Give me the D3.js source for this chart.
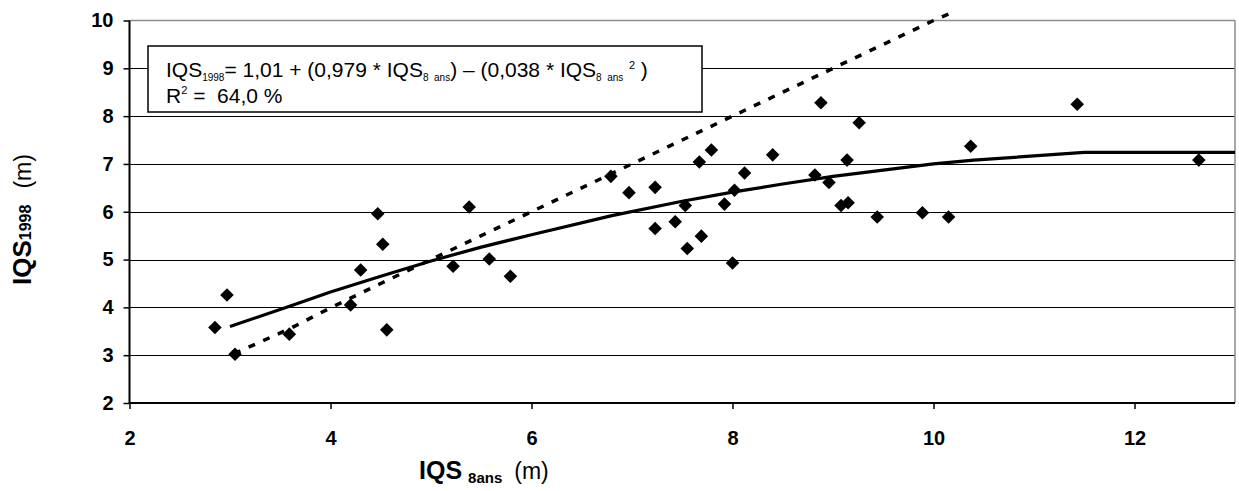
<!DOCTYPE html>
<html><head><meta charset="utf-8">
<script src="https://cdn.jsdelivr.net/npm/d3@7"></script>
<style>
body{margin:0;background:#fff}
svg{display:block}
text{font-family:"Liberation Sans",Arial,Helvetica,sans-serif;fill:#000}
</style>
</head><body>
<svg id="chart" width="1239" height="491"></svg>
<script>
// ---- data ----
const xTicks = [2, 4, 6, 8, 10, 12];
const yTicks = [2, 3, 4, 5, 6, 7, 8, 9, 10];
const gridValues = [3, 4, 5, 6, 7, 8, 9];

const obsX = [2.85, 2.97, 3.05, 3.59, 4.20, 4.30, 4.47, 4.52, 4.56, 5.22, 5.38, 5.58, 5.79,
              6.79, 6.97, 7.23, 7.23, 7.43, 7.53, 7.55, 7.67, 7.69, 7.79, 7.92, 8.00, 8.02,
              8.12, 8.40, 8.82, 8.88, 8.96, 9.08, 9.14, 9.15, 9.26, 9.44, 9.89, 10.15, 10.37,
              11.43, 12.64];
const obsY = [3.58, 4.26, 3.02, 3.44, 4.05, 4.78, 5.96, 5.32, 3.53, 4.86, 6.10, 5.01, 4.65,
              6.74, 6.40, 6.51, 5.65, 5.79, 6.13, 5.23, 7.04, 5.49, 7.29, 6.16, 4.93, 6.45,
              6.81, 7.19, 6.77, 8.28, 6.61, 6.13, 7.08, 6.19, 7.86, 5.89, 5.98, 5.89, 7.37,
              8.25, 7.08];

const fitX = [3.0, 3.6, 4.0, 4.5, 5.0, 5.5, 6.0, 6.8, 7.5, 8.0, 8.5, 9.0, 9.5, 10.0, 10.4, 11.5, 12.0, 13.0];
const fitY = [3.60, 4.03, 4.32, 4.65, 4.97, 5.26, 5.52, 5.92, 6.22, 6.41, 6.58, 6.74, 6.87, 7.00, 7.08, 7.24, 7.24, 7.24];

const refX = [3.04, 3.6, 4.0, 4.5, 5.0, 5.5, 6.0, 6.5, 7.0, 7.5, 8.0, 8.5, 9.0, 9.5, 10.0, 10.2];
const refY = [3.03, 3.56, 3.99, 4.50, 5.00, 5.50, 6.00, 6.50, 7.00, 7.50, 8.00, 8.50, 9.00, 9.50, 10.00, 10.18];

// ---- layout ----
const svg = d3.select("#chart");
const L = 129.5, R = 1235, T = 20.5, B = 403;
const x = d3.scaleLinear().domain([2, 13]).range([L, R]);
const y = d3.scaleLinear().domain([2, 10]).range([B, T]);

// gridlines
svg.append("g").selectAll("line").data(gridValues).join("line")
  .attr("x1", L).attr("x2", R)
  .attr("y1", d => Math.round(y(d)) + 0.5).attr("y2", d => Math.round(y(d)) + 0.5)
  .attr("stroke", "#000").attr("stroke-width", 1);

// top & right border (grey)
svg.append("line").attr("x1", L).attr("x2", R).attr("y1", y(10)).attr("y2", y(10))
  .attr("stroke", "#8c8c8c").attr("stroke-width", 1.5);
svg.append("line").attr("x1", R).attr("x2", R).attr("y1", y(10)).attr("y2", B)
  .attr("stroke", "#8c8c8c").attr("stroke-width", 1.5);

// axes
const yAxis = d3.axisLeft(y).tickValues(yTicks).tickSize(6).tickSizeOuter(0).tickPadding(10);
const gy = svg.append("g").attr("transform", `translate(${L},0)`).call(yAxis);
gy.select(".domain").remove();
gy.selectAll(".tick line").attr("stroke", "#000").attr("stroke-width", 1.5);
gy.selectAll(".tick text").attr("font-size", 20).attr("font-weight", "bold")
  .attr("font-family", '"Liberation Sans",Arial,sans-serif').attr("fill", "#000");

const xAxis = d3.axisBottom(x).tickValues(xTicks).tickSize(6).tickSizeOuter(0).tickPadding(22);
const gx = svg.append("g").attr("transform", `translate(0,${B})`).call(xAxis);
gx.select(".domain").remove();
gx.selectAll(".tick line").attr("stroke", "#000").attr("stroke-width", 1.5);
gx.selectAll(".tick text").attr("font-size", 20).attr("font-weight", "bold")
  .attr("font-family", '"Liberation Sans",Arial,sans-serif').attr("fill", "#000");

svg.append("line").attr("x1", L).attr("x2", L).attr("y1", y(10)).attr("y2", B)
  .attr("stroke", "#000").attr("stroke-width", 2);
svg.append("line").attr("x1", L).attr("x2", R).attr("y1", B).attr("y2", B)
  .attr("stroke", "#000").attr("stroke-width", 2);

// equation box
svg.append("rect").attr("x", 148).attr("y", 46).attr("width", 554).attr("height", 66)
  .attr("fill", "#fff").attr("stroke", "#000").attr("stroke-width", 1.5);

const eq = svg.append("text").attr("x", 166).attr("y", 77).attr("font-size", 21)
  .style("white-space", "pre");
eq.append("tspan").text("IQS");
eq.append("tspan").attr("font-size", 10).attr("dy", 4).text("1998");
eq.append("tspan").attr("dy", -4).text("= 1,01 + (0,979 * IQS");
eq.append("tspan").attr("font-size", 10).attr("dy", 4).text("8  ans");
eq.append("tspan").attr("dy", -4).text(") \u2013 (0,038 * IQS");
eq.append("tspan").attr("font-size", 10).attr("dy", 4).text("8  ans  ");
eq.append("tspan").attr("font-size", 11).attr("dy", -12).text("2");
eq.append("tspan").attr("dy", 8).text(" )");

const r2 = svg.append("text").attr("x", 166).attr("y", 103).attr("font-size", 21)
  .style("white-space", "pre");
r2.append("tspan").text("R");
r2.append("tspan").attr("font-size", 11).attr("dy", -9).text("2");
r2.append("tspan").attr("dy", 9).text(" =  64,0 %");

// lines
const lineGen = d3.line().x(d => x(d[0])).y(d => y(d[1]));
svg.append("path").datum(refX.map((v, i) => [v, refY[i]]))
  .attr("d", lineGen).attr("fill", "none").attr("stroke", "#000")
  .attr("stroke-width", 3.5).attr("stroke-dasharray", "7,9");
svg.append("path").datum(fitX.map((v, i) => [v, fitY[i]]))
  .attr("d", lineGen).attr("fill", "none").attr("stroke", "#000")
  .attr("stroke-width", 3.2).attr("stroke-linejoin", "round");

// points
const sym = d3.symbol().type(d3.symbolSquare).size(92);
svg.append("g").selectAll("path").data(obsX.map((v, i) => [v, obsY[i]])).join("path")
  .attr("d", sym)
  .attr("transform", d => `translate(${x(d[0])},${y(d[1])}) rotate(45)`)
  .attr("fill", "#000");

// axis titles
const yt = svg.append("text").attr("transform", "translate(31,285) rotate(-90)")
  .style("white-space", "pre");
yt.append("tspan").attr("font-size", 26).attr("font-weight", "bold").text("IQS");
yt.append("tspan").attr("font-size", 16).attr("font-weight", "bold").text("1998");
yt.append("tspan").attr("font-size", 23).attr("dx", 16).text("(m)");

const xt = svg.append("text").attr("x", 419).attr("y", 479).style("white-space", "pre");
xt.append("tspan").attr("font-size", 25).attr("font-weight", "bold").text("IQS");
xt.append("tspan").attr("font-size", 15).attr("font-weight", "bold").attr("dx", 6).attr("dy", 4).text("8ans");
xt.append("tspan").attr("font-size", 23).attr("dx", 12).attr("dy", -4).text("(m)");
</script>
</body></html>
